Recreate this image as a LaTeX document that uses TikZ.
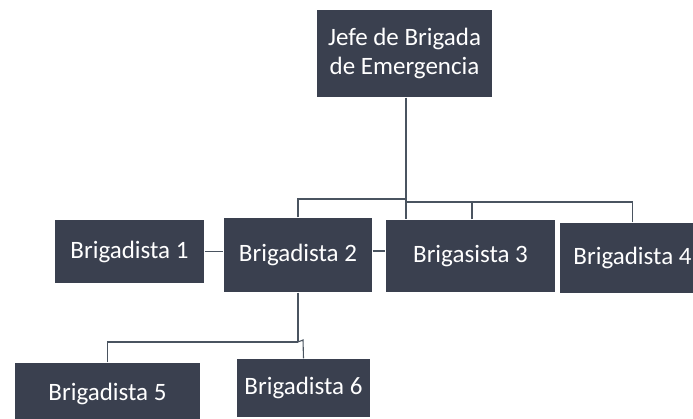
\documentclass[tikz,border=0pt]{standalone}
\usepackage{fontspec}
\setmainfont{Carlito}
\usetikzlibrary{positioning}
\definecolor{boxgray}{RGB}{58,64,79}
\definecolor{linegray}{RGB}{74,84,96}

\begin{document}
\begin{tikzpicture}[x=1pt, y=-1pt, line width=1.1pt, draw=linegray,
          puesto/.style = {rectangle, fill=boxgray, text=white,
                           font=\fontsize{25}{29}\selectfont,
                           inner sep=0pt, align=center,
                           minimum width=#1},
          enlace/.style = {linegray, line width=1.1pt}
                        ]
\useasboundingbox (0,0) rectangle (693,419);
% Draw the chief node
    \node[puesto=175pt, minimum height=87pt] (jefe) at (404.5,53.5)
          {Jefe de Brigada\\de Emergencia};
% Draw the second row nodes
    \node[puesto=149pt, minimum height=63pt] (B-1) at (129.5,251.5) {Brigadista 1};
    \node[puesto=148pt, minimum height=74pt] (B-2) at (298,255)     {Brigadista 2};
    \node[puesto=169pt, minimum height=72pt] (B-3) at (470.5,256)   {Brigasista 3};
    \node[puesto=145pt, minimum height=70pt] (B-4) at (632.5,258)   {Brigadista 4};
% Draw the third row nodes
    \node[puesto=185pt, minimum height=62pt] (B-5) at (107.5,394)   {Brigadista 5};
    \node[puesto=133pt, minimum height=58pt] (B-6) at (303.5,388)   {Brigadista 6};
% Connect the chief with the second row
    \coordinate (bus-1) at (406,199);
    \coordinate (bus-2) at (406,202);
    \coordinate (bus-3) at (472,202);
    \coordinate (lnk)   at (0,251);
    \draw[enlace] (jefe.south -| bus-1) -- (B-3.north -| bus-1);
    \draw[enlace] (B-2.north) |- (bus-1);
    \draw[enlace] (B-4.north) |- (bus-2);
    \draw[enlace] (B-3.north -| bus-3) -- (bus-3);
    \draw[enlace] (B-1.east) -- (B-1.east -| B-2.west);
    \draw[enlace] (B-2.east |- lnk) -- (B-3.west |- lnk);
% Connect the second node with the third row
    \coordinate (bus-4) at (298,342);
    \coordinate (bus-5) at (303,340);
    \draw[enlace] (B-2.south) -- (bus-4);
    \draw[enlace] (B-5.north) |- (bus-4);
    \draw[enlace] (bus-4) -- (bus-5) -- (B-6.north);
\end{tikzpicture}
\end{document}
